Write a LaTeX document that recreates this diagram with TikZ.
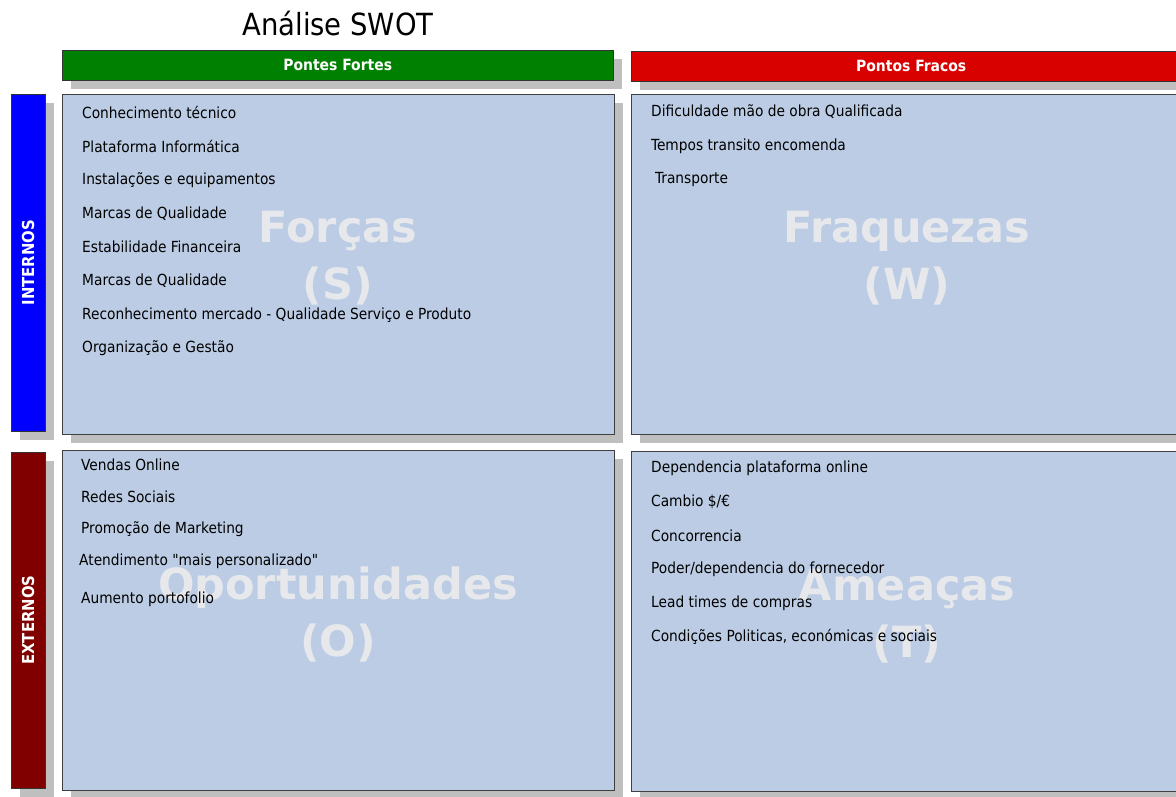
\documentclass[tikz,border=0pt]{standalone}
\usepackage{fontspec}
\setmainfont{DejaVu Sans Condensed}
\newfontfamily\markfont{DejaVu Sans}
\usetikzlibrary{shadows}
\definecolor{quadfill}{HTML}{BBCCE4}
\definecolor{shadegray}{HTML}{BFBFBF}
\definecolor{markgray}{HTML}{E6E8EC}
\definecolor{forcegreen}{HTML}{008000}
\definecolor{weakred}{HTML}{D90000}
\definecolor{intblue}{HTML}{0000FF}
\definecolor{extred}{HTML}{800000}
\begin{document}
\begin{tikzpicture}
[x=1pt,y=-1pt,
  shadowed/.style={general shadow={fill=shadegray,shadow xshift=9pt,shadow yshift=-9pt}},%
  quadbox/.style={shape=rectangle,anchor=north west,inner sep=0pt,draw=black!75,
    fill=quadfill,minimum width=552pt,minimum height=340pt,shadowed},%
  headbox/.style={shape=rectangle,anchor=north west,inner sep=0pt,draw=black!80,
    minimum height=30pt,shadowed,text=white,font=\bfseries\fontsize{15.5}{17}\selectfont},%
  sidebox/.style={shape=rectangle,anchor=north west,inner sep=0pt,draw=black!80,
    minimum width=34pt,minimum height=337pt,shadowed},%
  sidetext/.style={text=white,rotate=90,font=\bfseries\fontsize{16.5}{18}\selectfont},%
  marktext/.style={text=markgray,align=center,font=\markfont\bfseries\fontsize{43}{57}\selectfont},%
  itemtext/.style={anchor=west,inner sep=0pt,font=\fontsize{15.3}{17}\selectfont}]
\clip (0,0) rectangle (1176,796);
%% title
\node (title) at (338,24) {\fontsize{30.5}{36}\selectfont Análise SWOT};
%% column heads
\node (strhead) at (62,50) [headbox,fill=forcegreen,minimum width=551pt] {Pontes Fortes};
\node (weakhead) at (631,51) [headbox,fill=weakred,minimum width=560pt] {Pontos Fracos};
%% row heads
\node (intside) at (11,94) [sidebox,fill=intblue] {};
\node (extside) at (11,452) [sidebox,fill=extred,minimum height=336pt] {};
\node (intlabel) at (intside.center) [sidetext] {INTERNOS};
\node (extlabel) at (extside.center) [sidetext] {EXTERNOS};
%% quadrants
\foreach \quadname/\x/\y in {S/62/94, W/631/94, O/62/450, T/631/451} {
  \node (\quadname) at (\x,\y) [quadbox] {};
}
%% big letters
\node (Smark) at (338,258) [marktext] {Forças\\(S)};
\node (Wmark) at (907,258) [marktext] {Fraquezas\\(W)};
\node (Omark) at (338,614) [marktext] {Oportunidades\\(O)};
\node (Tmark) at (907,616) [marktext] {Ameaças\\(T)};
%% items
\foreach \x/\y/\txt [count=\i] in {82/112/Conhecimento técnico, 82/146/Plataforma Informática,
  82/180/Instalações e equipamentos, 82/214/Marcas de Qualidade, 82/247/Estabilidade Financeira,
  82/281/Marcas de Qualidade, 82/315/Reconhecimento mercado - Qualidade Serviço e Produto,
  82/348/Organização e Gestão} {
  \node (Sitem\i) at (\x,\y) [itemtext] {\txt};
}
\foreach \x/\y/\txt [count=\i] in {651/112/Dificuldade mão de obra Qualificada,
  651/146/Tempos transito encomenda, 655/180/Transporte} {
  \node (Witem\i) at (\x,\y) [itemtext] {\txt};
}
\foreach \x/\y/\txt [count=\i] in {81/465/Vendas Online, 81/497/Redes Sociais,
  81/529/Promoção de Marketing, 79/561/Atendimento \textquotedbl mais personalizado\textquotedbl,
  81/599/Aumento portofolio} {
  \node (Oitem\i) at (\x,\y) [itemtext] {\txt};
}
\foreach \x/\y/\txt [count=\i] in {651/468/Dependencia plataforma online, 651/502/{Cambio \$/€},
  651/536/Concorrencia, 651/569/{Poder/dependencia do fornecedor}, 651/603/Lead times de compras,
  651/637/{Condições Politicas, económicas e sociais}} {
  \node (Titem\i) at (\x,\y) [itemtext] {\txt};
}
\end{tikzpicture}
\end{document}
